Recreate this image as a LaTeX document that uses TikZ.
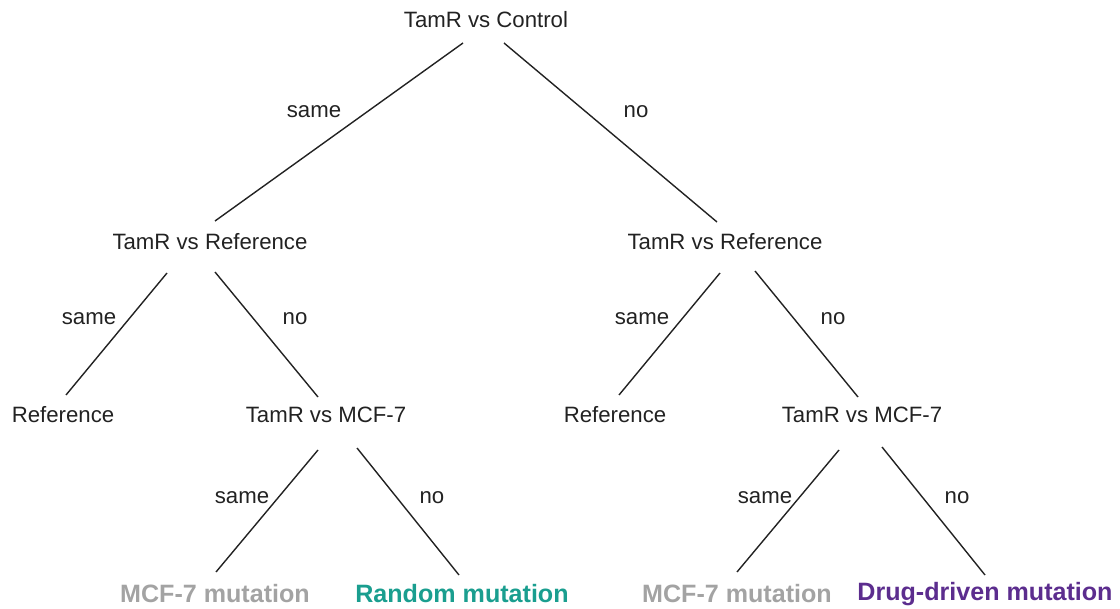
\documentclass[tikz,border=0pt]{standalone}
\usepackage{fontspec}
\setmainfont{Liberation Sans}
\usetikzlibrary{calc}
\definecolor{leafgray}{HTML}{A3A3A3}
\definecolor{leafteal}{HTML}{1A9E8F}
\definecolor{leafpurple}{HTML}{5C2D8E}
\definecolor{inkgray}{HTML}{222222}
\begin{document}
\begin{tikzpicture}[x=0.5pt,y=-0.5pt,
  test/.style={font=\fontsize{11.1}{13}\selectfont, text=inkgray, inner sep=0pt},
  lab/.style={font=\fontsize{11.1}{13}\selectfont, text=inkgray, inner sep=0pt},
  outcome/.style={font=\fontsize{12.55}{15}\selectfont\bfseries, inner sep=0pt},
  edge/.style={draw=inkgray, line width=0.7pt}]
\useasboundingbox (0,0) rectangle (1120,609);
% decision nodes
\node[test] (root) at (486,20) {TamR vs Control};
\node[test] (refL) at (210,242) {TamR vs Reference};
\node[test] (refR) at (725,242) {TamR vs Reference};
\node[test] (leafRefL) at (63,415) {Reference};
\node[test] (mcfL) at (326,415) {TamR vs MCF-7};
\node[test] (leafRefR) at (615,415) {Reference};
\node[test] (mcfR) at (862,415) {TamR vs MCF-7};
% outcomes
\node[outcome, text=leafgray] (mutL) at (215,594) {MCF-7 mutation};
\node[outcome, text=leafteal] (rand) at (462,594) {Random mutation};
\node[outcome, text=leafgray] (mutR) at (737,594) {MCF-7 mutation};
\node[outcome, text=leafpurple] (drug) at (985,594) {Drug-driven mutation};
% branches
\draw[edge] ($(root)+(-23,23)$) -- ($(refL)+(5,-21)$);
\draw[edge] ($(root)+(18,23)$) -- ($(refR)+(-8,-20)$);
\draw[edge] ($(refL)+(-43,31)$) -- ($(leafRefL)+(3,-20)$);
\draw[edge] ($(refL)+(5,30)$) -- ($(mcfL)+(-8,-18)$);
\draw[edge] ($(refR)+(-5,31)$) -- ($(leafRefR)+(4,-20)$);
\draw[edge] ($(refR)+(30,29)$) -- ($(mcfR)+(-4,-18)$);
\draw[edge] ($(mcfL)+(-8,35)$) -- ($(mutL)+(1,-22)$);
\draw[edge] ($(mcfL)+(31,33)$) -- ($(rand)+(-3,-19)$);
\draw[edge] ($(mcfR)+(-23,35)$) -- ($(mutR)+(0,-22)$);
\draw[edge] ($(mcfR)+(20,32)$) -- ($(drug)+(0,-19)$);
% branch labels
\node[lab] (s1) at (314,112) {same};
\node[lab] (n1) at (636,112) {no};
\node[lab] (s2) at (89,319) {same};
\node[lab] (n2) at (295,319) {no};
\node[lab] (s3) at (642,319) {same};
\node[lab] (n3) at (833,319) {no};
\node[lab] (s4) at (242,498) {same};
\node[lab] (n4) at (432,498) {no};
\node[lab] (s5) at (765,498) {same};
\node[lab] (n5) at (957,498) {no};
\end{tikzpicture}
\end{document}
